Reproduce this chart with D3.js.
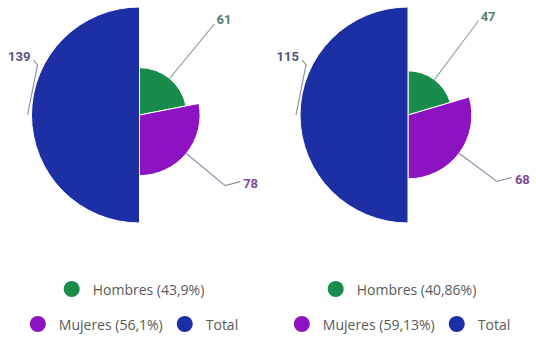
<!DOCTYPE html>
<html>
<head>
<meta charset="utf-8">
<script src="https://cdn.jsdelivr.net/npm/d3@7"></script>
<style>
  html, body { margin: 0; padding: 0; background: #fff; }
  svg { display: block; font-family: Roboto, "Noto Sans", sans-serif; }
</style>
</head>
<body>
<svg id="chart" width="536" height="340"></svg>
<script>
// Categories and values for the two variable-radius pies
const categories = ["Hombres", "Mujeres", "Total"];
const valuesLeft = [61, 78, 139];
const valuesRight = [47, 68, 115];
const legendLeft = ["Hombres (43,9%)", "Mujeres (56,1%)", "Total"];
const legendRight = ["Hombres (40,86%)", "Mujeres (59,13%)", "Total"];

const colors = d3.scaleOrdinal().domain(categories).range(["#178c4b", "#8c12c2", "#1c2fa5"]);
const labelColors = d3.scaleOrdinal().domain(categories).range(["#55806a", "#7d4a97", "#50537f"]);
const connectorColors = d3.scaleOrdinal().domain(categories).range(["#8fa89a", "#9a88a6", "#8c8fa6"]);

const svg = d3.select("#chart");
const R = 108;          // radius of the largest slice
const cy = 115;

const panels = [
  { values: valuesLeft, legend: legendLeft, cx: 139.5, x0: 0, w: 268 },
  { values: valuesRight, legend: legendRight, cx: 408, x0: 268, w: 268 }
];

const pie = d3.pie().sort(null).value(d => d).startAngle(0).endAngle(2 * Math.PI);

function polar(a, r) {
  return [Math.sin(a) * r, -Math.cos(a) * r];
}

panels.forEach(p => {
  const rScale = d3.scaleLinear().domain([0, d3.max(p.values)]).range([0, R]);
  const arcs = pie(p.values).map((d, i) => Object.assign(d, { cat: categories[i] }));
  const arc = d3.arc().innerRadius(0).outerRadius(d => rScale(d.data));

  const g = svg.append("g").attr("transform", `translate(${p.cx},${cy})`);

  g.selectAll("path.slice")
    .data(arcs)
    .join("path")
    .attr("class", "slice")
    .attr("d", arc)
    .attr("fill", d => colors(d.cat))
    .attr("stroke", "#ffffff")
    .attr("stroke-width", 1);

  // data labels with connectors
  arcs.forEach(d => {
    const a = (d.startAngle + d.endAngle) / 2;
    const r = rScale(d.data);
    let pts, tx, ty, anchor;
    if (d.cat === "Hombres") {
      const p1 = polar(a, r);
      const p2 = polar(a, R + 10);
      pts = [p1, p2];
      tx = p2[0] + 2; ty = p2[1] - 4; anchor = "start";
    } else if (d.cat === "Mujeres") {
      const p1 = polar(a, r);
      const p2 = polar(a, R + 3);
      const p3 = [p2[0] + 15, p2[1] - 4];
      pts = [p1, p2, p3];
      tx = p3[0] + 3; ty = p3[1] + 2; anchor = "start";
    } else {
      const p1 = polar(a, R + 4);
      const p2 = [p1[0] + 10, p1[1] - 50];
      const p3 = [p2[0] - 4, p2[1] - 5];
      pts = [p1, p2, p3];
      tx = p3[0] - 3; ty = p3[1] - 4; anchor = "end";
    }
    g.append("path")
      .attr("d", d3.line().curve(d3.curveLinear)(pts))
      .attr("fill", "none")
      .attr("stroke", connectorColors(d.cat))
      .attr("stroke-width", 1.2);
    g.append("text")
      .attr("x", tx)
      .attr("y", ty)
      .attr("text-anchor", anchor)
      .attr("dominant-baseline", "central")
      .attr("font-size", 13)
      .attr("font-weight", "bold")
      .attr("fill", labelColors(d.cat))
      .text(d.data);
  });

  // legend: first row Hombres, second row Mujeres + Total, centred in the panel
  const rows = [[0], [1, 2]];
  const rowY = [289, 324];
  const legendG = svg.append("g");
  rows.forEach((row, ri) => {
    const rowG = legendG.append("g");
    let x = 0;
    row.forEach((ci, k) => {
      if (k > 0) x += 14;
      const item = rowG.append("g").attr("transform", `translate(${x},0)`);
      item.append("circle")
        .attr("cx", 8).attr("cy", 0).attr("r", 8)
        .attr("fill", colors(categories[ci]));
      const t = item.append("text")
        .attr("x", 29).attr("y", 0)
        .attr("dominant-baseline", "central")
        .attr("font-family", "'Open Sans', Roboto, sans-serif")
        .attr("font-size", 14)
        .attr("fill", "#5a5a5a")
        .text(p.legend[ci]);
      x += 29 + t.node().getComputedTextLength();
    });
    const cxPanel = p.x0 + p.w / 2;
    rowG.attr("transform", `translate(${cxPanel - x / 2},${rowY[ri]})`);
  });
});
</script>
</body>
</html>
